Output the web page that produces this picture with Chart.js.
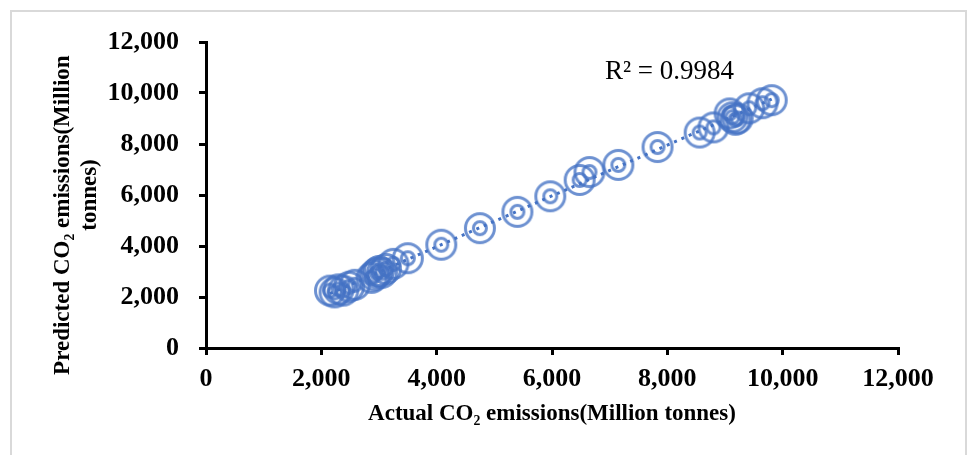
<!DOCTYPE html>
<html>
<head>
<meta charset="utf-8">
<script src="https://cdn.jsdelivr.net/npm/chart.js@4/dist/chart.umd.min.js"></script>
<style>
  html, body { margin: 0; padding: 0; background: #ffffff; }
  canvas { display: block; }
</style>
</head>
<body>
<canvas id="c" width="968" height="455"></canvas>
<script>
// ---- data ----
const actualCO2 = [2150, 2230, 2300, 2380, 2480, 2580, 2870, 2920, 2960, 3000, 3050, 3120, 3250, 3500,
                   4080, 4750, 5400, 5970, 6480, 6650, 7150, 7830,
                   8560, 8800, 9080, 9130, 9180, 9220, 9420, 9650, 9810];
const predictedCO2 = [2250, 2180, 2300, 2250, 2400, 2480, 2750, 2850, 2950, 3020, 2950, 3100, 3300, 3520,
                      4050, 4700, 5340, 5950, 6590, 6900, 7180, 7880,
                      8450, 8650, 9200, 9050, 8950, 9000, 9400, 9600, 9720];
const xTickValues = [0, 2000, 4000, 6000, 8000, 10000, 12000];
const yTickValues = [0, 2000, 4000, 6000, 8000, 10000, 12000];
const xTitle = 'Actual CO\u2082 emissions(Million tonnes)';
const yTitle = ['Predicted CO\u2082 emissions(Million\u00A0\u00A0\u00A0\u00A0\u00A0\u00A0\u00A0', 'tonnes)'];
const r2Label = 'R\u00B2 = 0.9984';

// ---- least squares trend line from the data ----
const n = actualCO2.length;
const mx = actualCO2.reduce((a, b) => a + b, 0) / n;
const my = predictedCO2.reduce((a, b) => a + b, 0) / n;
let sxy = 0, sxx = 0;
for (let i = 0; i < n; i++) { sxy += (actualCO2[i] - mx) * (predictedCO2[i] - my); sxx += (actualCO2[i] - mx) ** 2; }
const slope = sxy / sxx, intercept = my - slope * mx;
const xMin = Math.min(...actualCO2), xMax = Math.max(...actualCO2);
const trend = [{x: xMin, y: intercept + slope * xMin}, {x: xMax, y: intercept + slope * xMax}];

const points = actualCO2.map((v, i) => ({x: v, y: predictedCO2[i]}));

// target-style marker (double ring)
function makeMarker() {
  const c = document.createElement('canvas');
  c.width = 38; c.height = 38;
  const g = c.getContext('2d');
  g.strokeStyle = 'rgba(68,114,196,0.78)';
  g.lineWidth = 3;
  g.beginPath(); g.arc(19, 19, 14.5, 0, Math.PI * 2); g.stroke();
  g.beginPath(); g.arc(19, 19, 6.5, 0, Math.PI * 2); g.stroke();
  return c;
}
const marker = makeMarker();

const frame = {
  id: 'frame',
  beforeDraw(chart) {
    const ctx = chart.ctx;
    ctx.save();
    ctx.fillStyle = '#ffffff';
    ctx.fillRect(0, 0, chart.width, chart.height);
    ctx.strokeStyle = '#d9d9d9';
    ctx.lineWidth = 2;
    ctx.strokeRect(11, 11, 955, 460);
    ctx.restore();
  },
  afterDraw(chart) {
    const ctx = chart.ctx;
    ctx.save();
    ctx.fillStyle = '#000000';
    ctx.font = '27px "Liberation Serif"';
    ctx.textBaseline = 'middle';
    ctx.textAlign = 'left';
    ctx.fillText(r2Label, 605, 72);
    ctx.restore();
  }
};

const tickFont = {family: '"Liberation Serif"', size: 26, weight: 'bold'};
const titleFont = {family: '"Liberation Serif"', size: 23, weight: 'bold', lineHeight: 1.2};

new Chart(document.getElementById('c'), {
  type: 'scatter',
  data: {
    datasets: [
      {
        data: points,
        pointStyle: marker,
        pointRadius: 16,
        pointHoverRadius: 16,
        showLine: false,
        order: 1
      },
      {
        type: 'line',
        data: trend,
        borderColor: '#4472C4',
        borderWidth: 3,
        borderDash: [3, 5],
        pointRadius: 0,
        fill: false,
        order: 0
      }
    ]
  },
  options: {
    responsive: false,
    devicePixelRatio: 1,
    animation: false,
    events: [],
    layout: { padding: {left: 0, right: 70, top: 42, bottom: 0} },
    plugins: { legend: {display: false}, tooltip: {enabled: false} },
    scales: {
      x: {
        type: 'linear',
        min: 0, max: 12000,
        afterBuildTicks: (s) => { s.ticks = xTickValues.map(v => ({value: v})); },
        afterFit: (s) => { s.height = 107; },
        ticks: { color: '#000', font: tickFont, padding: 9, maxRotation: 0,
                 callback: (v) => v.toLocaleString('en-US') },
        grid: { display: true, drawOnChartArea: false, drawTicks: true, tickLength: 7, color: '#000', lineWidth: 3 },
        border: { display: true, color: '#000', width: 3 },
        title: { display: true, text: xTitle, color: '#000', font: titleFont, padding: {top: 0, bottom: 27} }
      },
      y: {
        type: 'linear',
        min: 0, max: 12000,
        afterBuildTicks: (s) => { s.ticks = yTickValues.map(v => ({value: v})); },
        afterFit: (s) => { s.width = 206; },
        ticks: { color: '#000', font: tickFont, padding: 20,
                 callback: (v) => v.toLocaleString('en-US') },
        grid: { display: true, drawOnChartArea: false, drawTicks: true, tickLength: 7, color: '#000', lineWidth: 3 },
        border: { display: true, color: '#000', width: 3 },
        title: { display: true, text: yTitle, color: '#000', font: titleFont, padding: {top: 49, bottom: 0} }
      }
    }
  },
  plugins: [frame]
});
</script>
</body>
</html>
